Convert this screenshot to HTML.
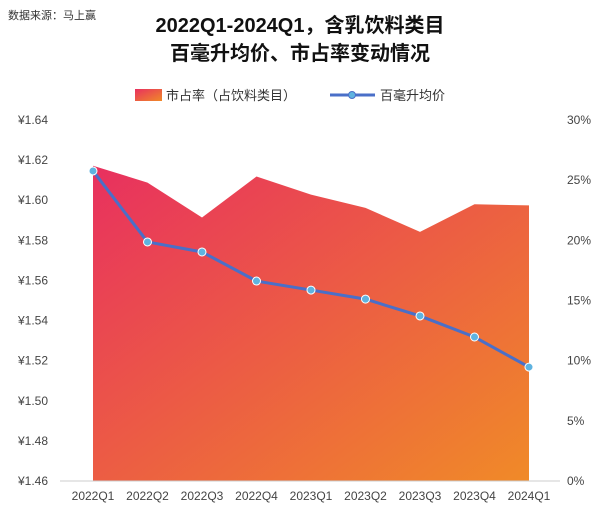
<!DOCTYPE html>
<html><head><meta charset="utf-8"><style>
body{margin:0;background:#fff;}
svg text{font-family:"Liberation Sans","Noto Sans CJK SC",sans-serif;}
</style></head><body>
<svg width="600" height="513">
<defs>
<linearGradient id="g" x1="0" y1="0" x2="1" y2="1">
<stop offset="0" stop-color="#e8305f"/><stop offset="1" stop-color="#f08a28"/>
</linearGradient>
</defs>
<text x="8" y="19" font-size="11" fill="#333">数据来源：马上赢</text>
<text x="300" y="32" font-size="20" font-weight="bold" text-anchor="middle" fill="#111">2022Q1-2024Q1，含乳饮料类目</text>
<text x="300" y="60" font-size="20" font-weight="bold" text-anchor="middle" fill="#111">百毫升均价、市占率变动情况</text>
<g>
<rect x="135" y="89" width="27" height="12" fill="url(#g)"/>
<text x="166" y="100" font-size="13" fill="#333">市占率（占饮料类目）</text>
<line x1="330" y1="95" x2="375" y2="95" stroke="#4a6fc8" stroke-width="3"/>
<circle cx="352" cy="95" r="3.5" fill="#5fb3e0" stroke="#4a6fc8"/>
<text x="380" y="100" font-size="13" fill="#333">百毫升均价</text>
</g>
<g id="plot"></g>
</svg>
<script>
const categories=["2022Q1","2022Q2","2022Q3","2022Q4","2023Q1","2023Q2","2023Q3","2023Q4","2024Q1"];
const shareValues=[26.2,24.8,21.9,25.3,23.8,22.7,20.7,23.0,22.9];
const priceValues=[1.6146,1.5792,1.5742,1.5597,1.5552,1.5507,1.5423,1.5318,1.5168];
const leftTicks=[1.46,1.48,1.50,1.52,1.54,1.56,1.58,1.60,1.62,1.64];
const rightTicks=[0,5,10,15,20,25,30];
const NS="http://www.w3.org/2000/svg";
const plotTop=120,plotBot=481,plotX0=93,plotStep=54.5;
const xS=i=>plotX0+i*plotStep;
const yL=v=>plotBot-(v-1.46)/(0.18)*(plotBot-plotTop);
const yR=v=>plotBot-v/30*(plotBot-plotTop);
const g=document.getElementById('plot');
function mk(t,a){const e=document.createElementNS(NS,t);for(const k in a)e.setAttribute(k,a[k]);g.appendChild(e);return e;}
let d=`M${xS(0)},${plotBot}`;shareValues.forEach((v,i)=>d+=` L${xS(i)},${yR(v)}`);d+=` L${xS(shareValues.length-1)},${plotBot} Z`;
const area=mk('path',{d:d,fill:'url(#g)'});


const ax=mk('line',{x1:60,x2:560,y1:plotBot,y2:plotBot,stroke:'#ccc'});


leftTicks.forEach(v=>{const t=mk('text',{x:48,y:yL(v)+4,'font-size':12,'text-anchor':'end',fill:'#444'});t.textContent='¥'+v.toFixed(2);

});
rightTicks.forEach(v=>{const t=mk('text',{x:567,y:yR(v)+4,'font-size':12,fill:'#444'});t.textContent=v+'%';

});
categories.forEach((c,i)=>{const t=mk('text',{x:xS(i),y:500,'font-size':12,'text-anchor':'middle',fill:'#444'});t.textContent=c;

});
const pl=mk('polyline',{points:priceValues.map((v,i)=>xS(i)+','+yL(v)).join(' '),fill:'none',stroke:'#4a6fc8','stroke-width':3});


priceValues.forEach((v,i)=>{const c=mk('circle',{cx:xS(i),cy:yL(v),r:4,fill:'#5fb3e0',stroke:'#fff','stroke-width':1});

});
</script>
</body></html>
